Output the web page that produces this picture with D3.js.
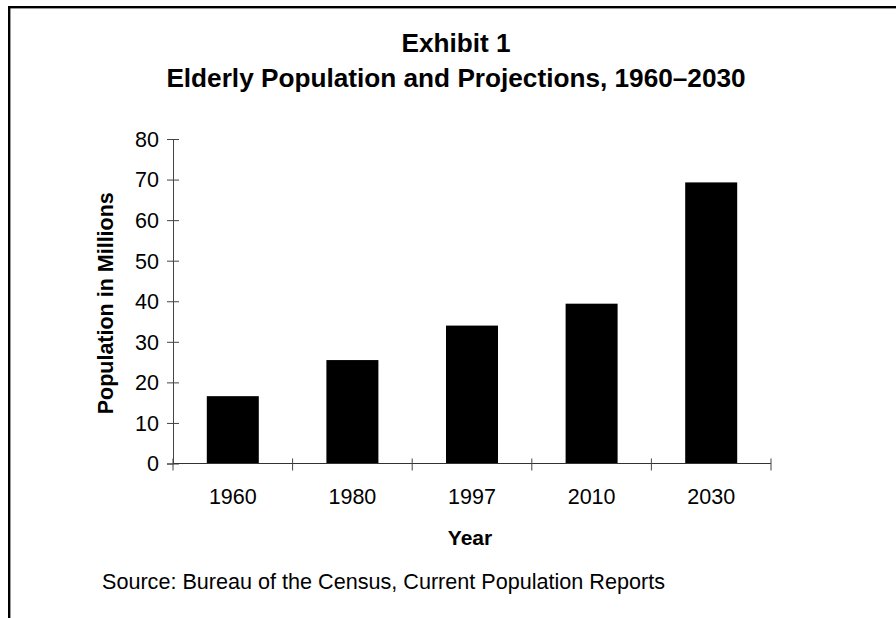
<!DOCTYPE html>
<html><head><meta charset="utf-8">
<script src="https://cdn.jsdelivr.net/npm/d3@7"></script>
<style>
body{margin:0;background:#fff;}
text{font-family:"Liberation Sans",Arial,sans-serif;fill:#000;}
</style></head>
<body><svg id="c" width="896" height="618"></svg>
<script>
const years = ["1960","1980","1997","2010","2030"];
const population = [16.6, 25.5, 34.0, 39.4, 69.3];
const yTicks = [0,10,20,30,40,50,60,70,80];
const titleLines = ["Exhibit 1","Elderly Population and Projections, 1960\u20132030"];
const yTitle = "Population in Millions";
const xTitle = "Year";
const source = "Source: Bureau of the Census, Current Population Reports";

const svg = d3.select("#c");
svg.append("rect").attr("x",9.2).attr("y",7.2).attr("width",1000).attr("height",1000)
  .attr("fill","none").attr("stroke","#000").attr("stroke-width",2.4);

const pL=173, pR=771, pT=139, pB=463.5;
const x = d3.scaleBand().domain(years).range([pL,pR]).padding(0);
const y = d3.scaleLinear().domain([0,80]).range([pB,pT]);
const barW = x.step()/2.3;

// bars
svg.append("g").selectAll("rect").data(years).join("rect")
  .attr("x",d=>x(d)+x.bandwidth()/2-barW/2)
  .attr("y",(d,i)=>y(population[i]))
  .attr("width",barW)
  .attr("height",(d,i)=>pB-y(population[i]))
  .attr("fill","#000");

// y axis
const ya = svg.append("g").attr("transform",`translate(${pL},0)`)
  .call(d3.axisLeft(y).tickValues(yTicks).tickSize(6).tickPadding(8));
ya.select(".domain").attr("stroke","#444");
ya.selectAll(".tick line").attr("stroke","#444");
ya.selectAll(".tick").append("line").attr("x2",6).attr("stroke","#444");
ya.selectAll(".tick text").attr("font-size",21.5).attr("dy","0.34em").attr("font-family","Liberation Sans, Arial, sans-serif").attr("fill","#000");

// x axis line and boundary ticks
const xa = svg.append("g");
xa.append("line").attr("x1",pL).attr("x2",pR).attr("y1",pB).attr("y2",pB).attr("stroke","#333");
const bounds = years.map(d=>x(d)).concat([x.range()[1]]);
xa.selectAll("line.t").data(bounds).join("line").attr("class","t")
  .attr("x1",d=>d).attr("x2",d=>d).attr("y1",pB-5).attr("y2",pB+7).attr("stroke","#444");
const xl = svg.append("g").attr("transform",`translate(0,${pB})`)
  .call(d3.axisBottom(x).tickSize(0).tickPadding(25));
xl.select(".domain").remove();
xl.selectAll(".tick text").attr("font-size",21.5).attr("font-family","Liberation Sans, Arial, sans-serif").attr("fill","#000");

// titles
svg.selectAll("text.title").data(titleLines).join("text").attr("class","title")
  .attr("x",456).attr("y",(d,i)=>52+i*35).attr("text-anchor","middle")
  .attr("font-size",26.2).attr("font-weight","bold").text(d=>d);

svg.append("text").attr("transform",`translate(113,${(pT+pB)/2+2}) rotate(-90)`)
  .attr("text-anchor","middle").attr("font-size",21.5).attr("font-weight","bold").text(yTitle);

svg.append("text").attr("x",(pL+pR)/2-2).attr("y",545).attr("text-anchor","middle")
  .attr("font-size",21).attr("font-weight","bold").text(xTitle);

svg.append("text").attr("x",102).attr("y",589).attr("font-size",21.6).text(source);
</script></body></html>
